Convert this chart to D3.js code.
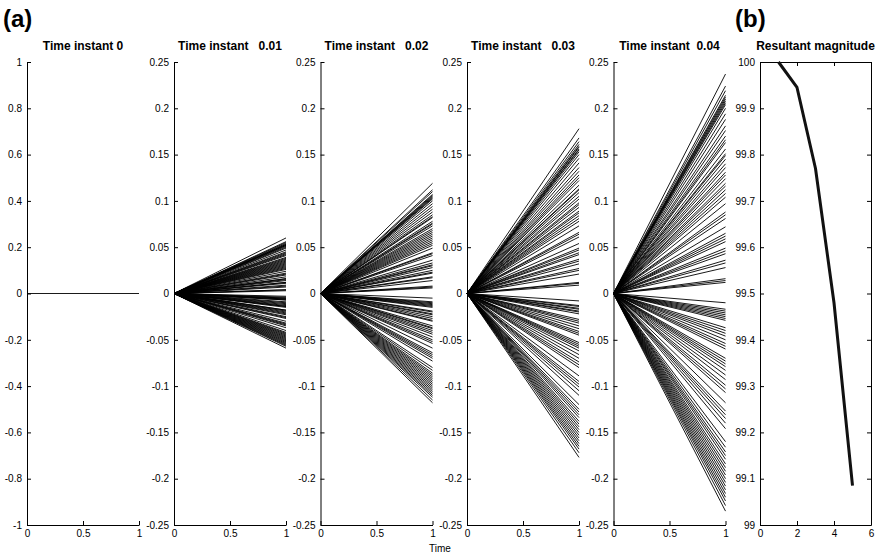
<!DOCTYPE html>
<html>
<head>
<meta charset="utf-8">
<script src="https://cdn.jsdelivr.net/npm/d3@7/dist/d3.min.js"></script>
<style>
  html, body { margin: 0; padding: 0; background: #fff; }
  svg { display: block; }
  text { font-family: "Liberation Sans", Arial, Helvetica, sans-serif; fill: #000; }
</style>
</head>
<body>
<svg id="chart" width="880" height="555"></svg>
<script>
// Panel titles for the five snapshots of part (a)
const panelTitles = ["Time instant 0", "Time instant   0.01", "Time instant   0.02", "Time instant   0.03", "Time instant  0.04"];

// End values (at time 1) of each trajectory, one array per snapshot
const endT0 = [0];
const endT1 = [0.060, 0.056, 0.055, 0.054, 0.053, 0.053, 0.052, 0.052, 0.051, 0.050, 0.049, 0.047, 0.045, 0.044, 0.043, 0.042, 0.041, 0.039, 0.038, 0.037, 0.036, 0.035, 0.034, 0.033, 0.032, 0.031, 0.030, 0.029, 0.028, 0.027, 0.026, 0.024, 0.022, 0.021, 0.020, 0.018, 0.016, 0.016, 0.015, 0.014, 0.012, 0.012, 0.011, 0.009, 0.008, 0.007, 0.004, 0.004, 0.003,
  -0.003, -0.004, -0.005, -0.005, -0.006, -0.006, -0.007, -0.007, -0.009, -0.010, -0.011, -0.012, -0.013, -0.014, -0.014, -0.015, -0.018, -0.018, -0.019, -0.020, -0.021, -0.022, -0.023, -0.025, -0.026, -0.027, -0.030, -0.032, -0.033, -0.034, -0.035, -0.037, -0.040, -0.042, -0.043, -0.044, -0.045, -0.046, -0.047, -0.048, -0.049, -0.050, -0.051, -0.052, -0.053, -0.054, -0.055, -0.056, -0.057, -0.059];
const endT2 = [0.119, 0.112, 0.110, 0.107, 0.106, 0.105, 0.104, 0.103, 0.102, 0.100, 0.097, 0.094, 0.091, 0.088, 0.085, 0.083, 0.082, 0.078, 0.076, 0.075, 0.073, 0.070, 0.068, 0.066, 0.064, 0.062, 0.060, 0.058, 0.056, 0.054, 0.052, 0.049, 0.044, 0.043, 0.041, 0.036, 0.033, 0.031, 0.030, 0.028, 0.025, 0.023, 0.022, 0.018, 0.017, 0.014, 0.008, 0.007, 0.006,
  -0.005, -0.009, -0.010, -0.011, -0.012, -0.013, -0.014, -0.015, -0.019, -0.020, -0.022, -0.023, -0.025, -0.027, -0.029, -0.030, -0.035, -0.037, -0.038, -0.040, -0.042, -0.044, -0.047, -0.050, -0.052, -0.054, -0.059, -0.064, -0.066, -0.068, -0.070, -0.073, -0.080, -0.083, -0.086, -0.088, -0.090, -0.092, -0.094, -0.096, -0.098, -0.100, -0.102, -0.104, -0.106, -0.108, -0.110, -0.112, -0.115, -0.118];
const endT3 = [0.178, 0.168, 0.164, 0.161, 0.159, 0.158, 0.156, 0.155, 0.153, 0.150, 0.146, 0.141, 0.136, 0.132, 0.128, 0.125, 0.122, 0.117, 0.113, 0.112, 0.109, 0.105, 0.102, 0.098, 0.096, 0.093, 0.089, 0.087, 0.084, 0.081, 0.078, 0.073, 0.066, 0.064, 0.061, 0.054, 0.049, 0.047, 0.044, 0.042, 0.037, 0.035, 0.032, 0.027, 0.025, 0.021, 0.012, 0.011, 0.009,
  -0.008, -0.013, -0.014, -0.016, -0.017, -0.019, -0.020, -0.022, -0.028, -0.030, -0.032, -0.035, -0.038, -0.041, -0.043, -0.045, -0.053, -0.055, -0.057, -0.059, -0.062, -0.066, -0.070, -0.074, -0.077, -0.080, -0.089, -0.095, -0.098, -0.101, -0.105, -0.110, -0.120, -0.125, -0.128, -0.131, -0.134, -0.138, -0.141, -0.144, -0.147, -0.150, -0.153, -0.156, -0.159, -0.162, -0.165, -0.168, -0.172, -0.177];
const endT4 = [0.237, 0.224, 0.219, 0.214, 0.212, 0.210, 0.208, 0.206, 0.204, 0.200, 0.194, 0.188, 0.181, 0.176, 0.170, 0.166, 0.163, 0.156, 0.151, 0.149, 0.145, 0.140, 0.136, 0.131, 0.128, 0.124, 0.119, 0.116, 0.112, 0.108, 0.104, 0.097, 0.088, 0.085, 0.081, 0.072, 0.065, 0.062, 0.059, 0.056, 0.049, 0.046, 0.043, 0.036, 0.033, 0.028, 0.016, 0.014, 0.012,
  -0.010, -0.017, -0.019, -0.021, -0.023, -0.025, -0.027, -0.029, -0.037, -0.040, -0.043, -0.046, -0.050, -0.054, -0.057, -0.060, -0.070, -0.073, -0.076, -0.079, -0.083, -0.088, -0.093, -0.099, -0.103, -0.107, -0.118, -0.127, -0.131, -0.135, -0.140, -0.146, -0.160, -0.166, -0.171, -0.175, -0.179, -0.184, -0.188, -0.192, -0.196, -0.200, -0.204, -0.208, -0.212, -0.216, -0.220, -0.224, -0.229, -0.235];
const snapshotEnds = [endT0, endT1, endT2, endT3, endT4];

// Tick values
const timeTicks = [0, 0.5, 1];
const firstPanelTicks = [-1, -0.8, -0.6, -0.4, -0.2, 0, 0.2, 0.4, 0.6, 0.8, 1];
const snapshotTicks = [-0.25, -0.2, -0.15, -0.1, -0.05, 0, 0.05, 0.1, 0.15, 0.2, 0.25];

// Part (b): resultant magnitude per step
const magnitudeStep = [1, 2, 3, 4, 5];
const magnitudeValue = [100, 99.945, 99.77, 99.48, 99.085];
const magnitudeXTicks = [0, 2, 4, 6];
const magnitudeYTicks = [99, 99.1, 99.2, 99.3, 99.4, 99.5, 99.6, 99.7, 99.8, 99.9, 100];

const svg = d3.select("#chart");
const plotTop = 62, plotBottom = 525;
const panelLeft = [27, 174, 320.5, 467, 613.5];
const panelWidth = 112;
const tickLen = 4;
const fmt = d => String(+d.toFixed(2));

function styleAxis(g) {
  g.selectAll("path.domain").attr("stroke", "#000").attr("stroke-width", 1);
  g.selectAll(".tick line").attr("stroke", "#000").attr("stroke-width", 1);
  g.selectAll(".tick text").attr("font-size", 10)
    .attr("font-family", "'Liberation Sans', Arial, sans-serif").attr("fill", "#000");
}

snapshotEnds.forEach((ends, i) => {
  const x0 = panelLeft[i];
  const x = d3.scaleLinear().domain([0, 1]).range([x0, x0 + panelWidth]);
  const yDomain = i === 0 ? [-1, 1] : [-0.25, 0.25];
  const y = d3.scaleLinear().domain(yDomain).range([plotBottom, plotTop]);
  const g = svg.append("g");

  const line = d3.line().x(d => x(d[0])).y(d => y(d[1]));
  g.append("g").selectAll("path").data(ends).join("path")
    .attr("d", v => line([[0, 0], [1, v]]))
    .attr("fill", "none").attr("stroke", "#000").attr("stroke-width", 0.9);

  g.append("g").attr("transform", `translate(0,${plotBottom})`)
    .call(d3.axisBottom(x).tickValues(timeTicks).tickFormat(fmt)
      .tickSizeInner(-tickLen).tickSizeOuter(0).tickPadding(3))
    .call(styleAxis)
    .call(a => a.selectAll(".tick text").attr("dy", "0.9em"));

  g.append("g").attr("transform", `translate(${x0},0)`)
    .call(d3.axisLeft(y).tickValues(i === 0 ? firstPanelTicks : snapshotTicks).tickFormat(fmt)
      .tickSizeInner(-tickLen).tickSizeOuter(0).tickPadding(5))
    .call(styleAxis);

  g.append("text")
    .attr("x", x0 + panelWidth / 2).attr("y", 50)
    .attr("text-anchor", "middle").attr("font-size", 12).attr("font-weight", "bold")
    .style("white-space", "pre")
    .text(panelTitles[i]);
});

// Part (b)
{
  const x = d3.scaleLinear().domain([0, 6]).range([760, 871]);
  const y = d3.scaleLinear().domain([99, 100]).range([plotBottom, plotTop]);
  const g = svg.append("g");

  g.append("g").attr("transform", `translate(0,${plotBottom})`)
    .call(d3.axisBottom(x).tickValues(magnitudeXTicks).tickFormat(fmt)
      .tickSizeInner(-tickLen).tickSizeOuter(0).tickPadding(3))
    .call(styleAxis)
    .call(a => a.selectAll(".tick text").attr("dy", "0.9em"));
  g.append("g").attr("transform", `translate(0,${plotTop})`)
    .call(d3.axisTop(x).tickValues(magnitudeXTicks).tickFormat("")
      .tickSizeInner(-tickLen).tickSizeOuter(0))
    .call(styleAxis);
  g.append("g").attr("transform", "translate(760,0)")
    .call(d3.axisLeft(y).tickValues(magnitudeYTicks).tickFormat(fmt)
      .tickSizeInner(-tickLen).tickSizeOuter(0).tickPadding(5))
    .call(styleAxis);
  g.append("g").attr("transform", "translate(871,0)")
    .call(d3.axisRight(y).tickValues(magnitudeYTicks).tickFormat("")
      .tickSizeInner(-tickLen).tickSizeOuter(0))
    .call(styleAxis);

  g.append("path")
    .datum(magnitudeStep.map((s, k) => [s, magnitudeValue[k]]))
    .attr("d", d3.line().x(d => x(d[0])).y(d => y(d[1])))
    .attr("fill", "none").attr("stroke", "#111").attr("stroke-width", 3)
    .attr("stroke-linejoin", "round");

  g.append("text")
    .attr("x", 815.5).attr("y", 50)
    .attr("text-anchor", "middle").attr("font-size", 12).attr("font-weight", "bold")
    .text("Resultant magnitude");
}

// Shared labels
svg.append("text").attr("x", 440).attr("y", 552).attr("text-anchor", "middle")
  .attr("font-size", 10).text("Time");
svg.append("text").attr("x", 3).attr("y", 27).attr("font-size", 24).attr("font-weight", "bold").text("(a)");
svg.append("text").attr("x", 735).attr("y", 27).attr("font-size", 24).attr("font-weight", "bold").text("(b)");
</script>
</body>
</html>
